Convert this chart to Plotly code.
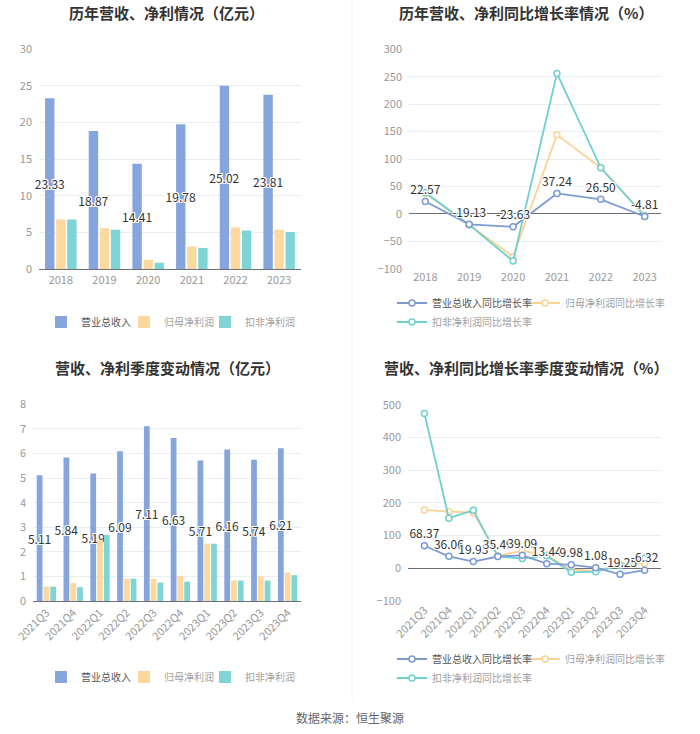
import plotly.graph_objects as go

# ---------------- data ----------------
years = ["2018", "2019", "2020", "2021", "2022", "2023"]
rev_year = [23.33, 18.87, 14.41, 19.78, 25.02, 23.81]
np_year = [6.8, 5.6, 1.3, 3.1, 5.7, 5.4]
npd_year = [6.8, 5.4, 0.9, 2.9, 5.3, 5.1]

rev_g_year = [22.57, -19.13, -23.63, 37.24, 26.50, -4.81]
np_g_year = [37, -20, -78, 144, 84, -3]
npd_g_year = [39, -20, -86, 256, 84, -4]

quarters = ["2021Q3", "2021Q4", "2022Q1", "2022Q2", "2022Q3", "2022Q4",
            "2023Q1", "2023Q2", "2023Q3", "2023Q4"]
rev_q = [5.11, 5.84, 5.19, 6.09, 7.11, 6.63, 5.71, 6.16, 5.74, 6.21]
np_q = [0.59, 0.73, 2.48, 0.91, 0.91, 1.02, 2.33, 0.83, 1.00, 1.15]
npd_q = [0.58, 0.56, 2.69, 0.91, 0.75, 0.79, 2.33, 0.83, 0.83, 1.05]

rev_g_q = [68.37, 36.06, 19.93, 35.49, 39.09, 13.44, 9.98, 1.08, -19.25, -6.32]
np_g_q = [178, 173, 170, 38, 53, 40, -5, -9, 11, 14]
npd_g_q = [474, 153, 177, 36, 29, 38, -13, -11, 8, 30]

names_bar = ["营业总收入", "归母净利润", "扣非净利润"]
names_line = ["营业总收入同比增长率", "归母净利润同比增长率", "扣非净利润同比增长率"]
title_tl = "历年营收、净利情况（亿元）"
title_tr = "历年营收、净利同比增长率情况（%）"
title_bl = "营收、净利季度变动情况（亿元）"
title_br = "营收、净利同比增长率季度变动情况（%）"
source = "数据来源：恒生聚源"

# ---------------- style ----------------
W, H = 700, 734
FONT = "Noto Sans CJK SC, Microsoft YaHei, sans-serif"
C_REV = "#86a5dc"
C_NP = "#fdd89f"
C_NPD = "#7fd5d5"
L_REV = "#7c9bd5"
L_NP = "#fbd393"
L_NPD = "#6fd0d0"
AXIS = "#6e7079"
HALO = "1px 1px 0 #fff, -1px -1px 0 #fff, 1px -1px 0 #fff, -1px 1px 0 #fff, 0 1px 0 #fff, 0 -1px 0 #fff, 1px 0 0 #fff, -1px 0 0 #fff"


def px_x(p):
    return p / W


def px_y(p):
    return 1 - p / H


def lname(text, dark):
    col = "#555" if dark else "#a0a0a0"
    return f"<span style='color:{col}'>{text}</span>"


def legid(n):
    return "legend" if n == 1 else f"legend{n}"


fig = go.Figure()

# legend placement (left edge px, centre y px) for each legend entry
leg_pos = {}

# ---------- bar panels ----------
bar_panels = [
    (years, [rev_year, np_year, npd_year], "x", "y", 1, 322),
    (quarters, [rev_q, np_q, npd_q], "x3", "y3", 4, 677),
]
bar_leg_x = [41, 124, 205]
for xs, series, xa, ya, lstart, ly in bar_panels:
    for i, (vals, col) in enumerate(zip(series, [C_REV, C_NP, C_NPD])):
        lg = legid(lstart + i)
        leg_pos[lg] = (bar_leg_x[i], ly)
        fig.add_trace(go.Bar(
            x=xs, y=vals, name=lname(names_bar[i], i == 0),
            marker=dict(color=col, line=dict(width=0)),
            xaxis=xa, yaxis=ya, legend=lg, showlegend=True,
            text=[f"{v:.2f}" for v in vals] if i == 0 else None,
            textposition="inside" if i == 0 else "none",
            insidetextanchor="middle", constraintext="none", textangle=0,
            textfont=dict(size=12, color="#333", family=FONT, shadow=HALO),
            cliponaxis=False, hoverinfo="skip",
        ))

# ---------- line panels ----------
line_panels = [
    (years, [rev_g_year, np_g_year, npd_g_year], "x2", "y2", 7, (303, 303, 322)),
    (quarters, [rev_g_q, np_g_q, npd_g_q], "x4", "y4", 10, (659, 659, 678)),
]
line_leg_x = [392, 525, 392]
for xs, series, xa, ya, lstart, lys in line_panels:
    cols = [L_REV, L_NP, L_NPD]
    for i in [1, 2, 0]:  # revenue drawn last so it sits on top
        vals = series[i]
        lg = legid(lstart + i)
        leg_pos[lg] = (line_leg_x[i], lys[i])
        fig.add_trace(go.Scatter(
            x=xs, y=vals, name=lname(names_line[i], i == 0),
            mode="lines+markers+text" if i == 0 else "lines+markers",
            line=dict(color=cols[i], width=1.8),
            marker=dict(symbol="circle", size=6, color="#fff", line=dict(color=cols[i], width=1.5)),
            text=[f"{v:.2f}" for v in vals] if i == 0 else None,
            textposition="top center",
            textfont=dict(size=12, color="#333", family=FONT, shadow=HALO),
            xaxis=xa, yaxis=ya, legend=lg, showlegend=True,
            cliponaxis=False, hoverinfo="skip",
        ))

tickf = dict(size=11, color="#999", family=FONT)
grid = "#e9edf4"

common_x = dict(type="category", tickfont=tickf, ticks="", showgrid=False, fixedrange=True, automargin=False)
common_y = dict(tickfont=tickf, gridcolor=grid, showline=False, ticks="", ticklabelstandoff=6,
                fixedrange=True, automargin=False)

dom_y2 = [px_y(268.7), px_y(49.3)]
rng_y2 = [-100, 300]
dom_y4 = [px_y(600.7), px_y(405)]
rng_y4 = [-100, 500]


def zero_pos(dom, rng):
    return dom[0] + (0 - rng[0]) / (rng[1] - rng[0]) * (dom[1] - dom[0])


layout = dict(
    width=W, height=H, margin=dict(l=0, r=0, t=0, b=0, autoexpand=False),
    paper_bgcolor="#fff", plot_bgcolor="#fff", showlegend=True,
    font=dict(family=FONT, color="#333"),
    barmode="group", bargap=0.24, bargroupgap=0.15,
    xaxis=dict(common_x, domain=[px_x(39), px_x(301)], anchor="y",
               showline=True, linecolor=AXIS, linewidth=1),
    yaxis=dict(common_y, domain=[px_y(269.3), px_y(49.3)], anchor="x", range=[0, 30], dtick=5,
               zeroline=False),
    xaxis2=dict(common_x, domain=[px_x(409), px_x(661)], anchor="y2", showline=False),
    yaxis2=dict(common_y, domain=dom_y2, anchor="x2", range=rng_y2, dtick=50,
                zeroline=True, zerolinecolor=AXIS, zerolinewidth=1),
    xaxis3=dict(common_x, domain=[px_x(33), px_x(301)], anchor="y3",
                showline=True, linecolor=AXIS, linewidth=1, tickangle=-45),
    yaxis3=dict(common_y, domain=[px_y(601), px_y(404.3)], anchor="x3", range=[0, 8], dtick=1,
                zeroline=False),
    xaxis4=dict(common_x, domain=[px_x(408), px_x(661)], anchor="y4", showline=False, tickangle=-45),
    yaxis4=dict(common_y, domain=dom_y4, anchor="x4", range=rng_y4, dtick=100,
                zeroline=True, zerolinecolor=AXIS, zerolinewidth=1),
    # tick marks hanging from the zero line of the two line charts
    xaxis5=dict(overlaying="x2", anchor="free", position=zero_pos(dom_y2, rng_y2), type="linear",
                range=[-0.5, len(years) - 0.5], tickmode="array", tickvals=list(range(len(years))),
                ticks="outside", ticklen=5, tickcolor=AXIS, showticklabels=False, showgrid=False,
                zeroline=False, showline=False, fixedrange=True, automargin=False),
    xaxis6=dict(overlaying="x4", anchor="free", position=zero_pos(dom_y4, rng_y4), type="linear",
                range=[-0.5, len(quarters) - 0.5], tickmode="array", tickvals=list(range(len(quarters))),
                ticks="outside", ticklen=5, tickcolor=AXIS, showticklabels=False, showgrid=False,
                zeroline=False, showline=False, fixedrange=True, automargin=False),
)

legf = dict(size=10, family=FONT, color="#555")
for lg, (lx, ly) in leg_pos.items():
    layout[lg] = dict(orientation="h", bgcolor="rgba(0,0,0,0)", font=legf, visible=True,
                      xanchor="left", yanchor="middle", itemsizing="trace", itemwidth=30,
                      x=px_x(lx), y=px_y(ly), itemclick=False, itemdoubleclick=False)

fig.update_layout(**layout)

# titles
for txt, cx, cy in [(title_tl, 166, 13), (title_tr, 526, 13), (title_bl, 167, 367), (title_br, 526, 367)]:
    fig.add_annotation(text=f"<b>{txt}</b>", x=px_x(cx), y=px_y(cy), xref="paper", yref="paper",
                       xanchor="center", yanchor="middle", showarrow=False,
                       font=dict(size=15, color="#333", family=FONT))

fig.add_annotation(text=source, x=0.5, y=px_y(717), xref="paper", yref="paper",
                   xanchor="center", yanchor="middle", showarrow=False,
                   font=dict(size=12, color="#666", family=FONT))

# faint divider
fig.add_shape(type="line", x0=px_x(352), x1=px_x(352), y0=px_y(0), y1=px_y(700),
              xref="paper", yref="paper", line=dict(color="#f2f2f2", width=1))

fig.write_html("out.html", config={"displayModeBar": False},
               post_script="document.body.style.margin='0';document.body.style.overflow='hidden';")
